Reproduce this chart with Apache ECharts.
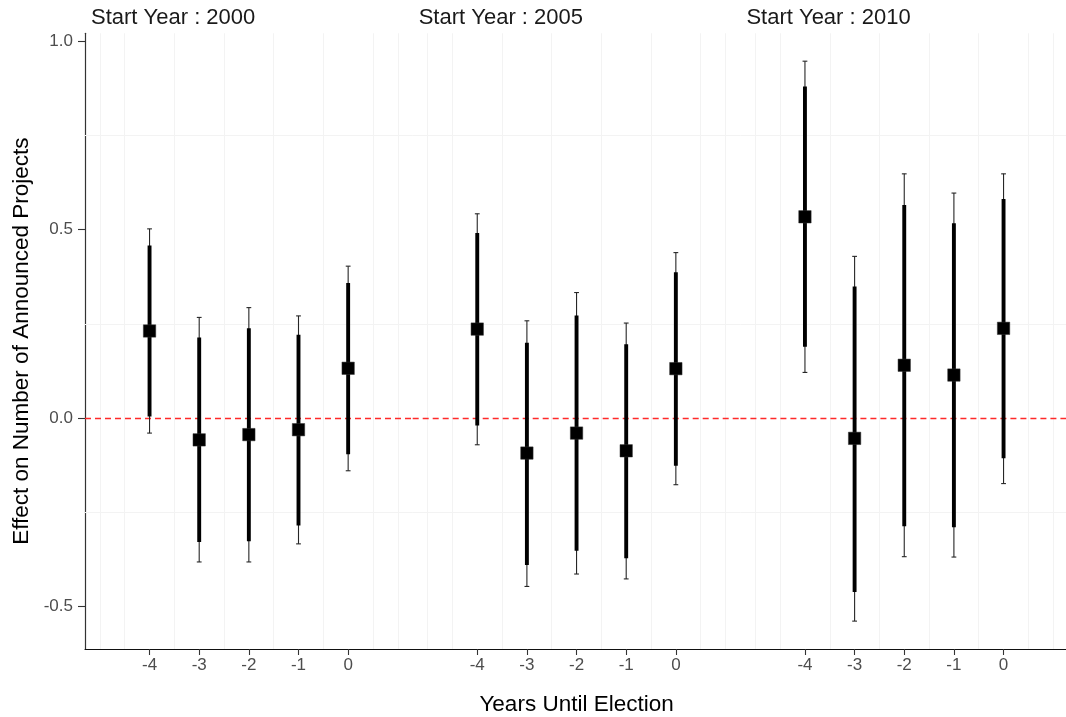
<!DOCTYPE html>
<html>
<head>
<meta charset="utf-8">
<title>Effect on Number of Announced Projects</title>
<script src="https://cdn.jsdelivr.net/npm/echarts@6/dist/echarts.min.js"></script>
<style>
  html, body { margin: 0; padding: 0; background: #ffffff; }
  #chart { width: 1066px; height: 717px; }
</style>
</head>
<body>
<div id="chart"></div>
<script>
// Event-study estimates by start year: point estimate, 95% and 90% intervals
const years = [-4, -3, -2, -1, 0];
const startYears = ['2000', '2005', '2010'];

const est2000  = [0.231, -0.058, -0.044, -0.031, 0.132];
const lo95_2000 = [-0.040, -0.382, -0.382, -0.334, -0.140];
const hi95_2000 = [0.502, 0.267, 0.293, 0.271, 0.403];
const lo90_2000 = [0.004, -0.329, -0.327, -0.285, -0.096];
const hi90_2000 = [0.458, 0.214, 0.238, 0.221, 0.358];

const est2005  = [0.236, -0.093, -0.040, -0.087, 0.131];
const lo95_2005 = [-0.071, -0.447, -0.414, -0.427, -0.177];
const hi95_2005 = [0.542, 0.258, 0.333, 0.252, 0.439];
const lo90_2005 = [-0.020, -0.390, -0.352, -0.372, -0.127];
const hi90_2005 = [0.491, 0.200, 0.272, 0.196, 0.387];

const est2010  = [0.534, -0.054, 0.140, 0.114, 0.238];
const lo95_2010 = [0.121, -0.539, -0.368, -0.369, -0.174];
const hi95_2010 = [0.947, 0.429, 0.648, 0.597, 0.648];
const lo90_2010 = [0.189, -0.462, -0.287, -0.290, -0.107];
const hi90_2010 = [0.880, 0.349, 0.565, 0.517, 0.581];

const yTicks = [-0.5, 0, 0.5, 1.0];

const panels = [
  { est: est2000, lo95: lo95_2000, hi95: hi95_2000, lo90: lo90_2000, hi90: hi90_2000 },
  { est: est2005, lo95: lo95_2005, hi95: hi95_2005, lo90: lo90_2005, hi90: hi90_2005 },
  { est: est2010, lo95: lo95_2010, hi95: hi95_2010, lo90: lo90_2010, hi90: hi90_2010 }
];

// layout of the three side-by-side facet panels
const FONT = '"Liberation Sans", Arial, Helvetica, sans-serif';
const PANEL_LEFT = 85;
const PANEL_W = 327.7;
const X_MIN = -5.3, X_MAX = 1.3;
const Y_MIN = -0.613, Y_MAX = 1.021;
const GRID_X = [-5, -4.5, -3.5, -2.5, -1.5, -0.5, 0.5, 1];
const GRID_Y = [-0.25, 0.25, 0.75];
const GRID_COLOR = '#f3f3f3';

function renderErrorBar(params, api) {
  const x = api.value(0);
  const pt = api.coord([x, api.value(1)]);
  const lo95 = api.coord([x, api.value(2)]);
  const hi95 = api.coord([x, api.value(3)]);
  const lo90 = api.coord([x, api.value(4)]);
  const hi90 = api.coord([x, api.value(5)]);
  const cx = pt[0];
  const cap = 2.4;
  const thin = { stroke: '#262626', lineWidth: 1.1 };
  return {
    type: 'group',
    children: [
      { type: 'line', shape: { x1: cx, y1: hi95[1], x2: cx, y2: lo95[1] }, style: thin },
      { type: 'line', shape: { x1: cx - cap, y1: hi95[1], x2: cx + cap, y2: hi95[1] }, style: thin },
      { type: 'line', shape: { x1: cx - cap, y1: lo95[1], x2: cx + cap, y2: lo95[1] }, style: thin },
      { type: 'line', shape: { x1: cx, y1: hi90[1], x2: cx, y2: lo90[1] }, style: { stroke: '#000000', lineWidth: 3.9 } },
      { type: 'rect', shape: { x: cx - 6.2, y: pt[1] - 6.2, width: 12.4, height: 12.4 }, style: { fill: '#000000', stroke: '#333333', lineWidth: 0.5 } }
    ]
  };
}

const grids = [], xAxes = [], yAxes = [], series = [], titles = [];

panels.forEach((p, i) => {
  grids.push({
    left: PANEL_LEFT + i * PANEL_W,
    width: PANEL_W,
    top: 33.3,
    bottom: 68,
    containLabel: false,
    outerBoundsMode: 'none'
  });

  xAxes.push({
    type: 'value',
    gridIndex: i,
    min: X_MIN,
    max: X_MAX,
    name: i === 1 ? 'Years Until Election' : '',
    nameLocation: 'middle',
    nameGap: 44,
    nameTextStyle: { fontFamily: FONT, fontSize: 22.5, color: '#000000' },
    axisLine: { show: true, onZero: false, lineStyle: { color: '#111111', width: 1.1 } },
    axisTick: { show: true, customValues: years, length: 6, lineStyle: { color: '#333333', width: 1.1 } },
    axisLabel: {
      show: true,
      customValues: years,
      formatter: v => String(v),
      fontFamily: FONT,
      fontSize: 17,
      color: '#4d4d4d',
      margin: 8
    },
    splitLine: { show: false }
  });

  yAxes.push({
    type: 'value',
    gridIndex: i,
    min: Y_MIN,
    max: Y_MAX,
    name: i === 0 ? 'Effect on Number of Announced Projects' : '',
    nameLocation: 'middle',
    nameGap: 52,
    nameTextStyle: { fontFamily: FONT, fontSize: 22.5, color: '#000000' },
    axisLine: { show: i === 0, onZero: false, lineStyle: { color: '#333333', width: 1.2 } },
    axisTick: { show: i === 0, customValues: yTicks, length: 7, lineStyle: { color: '#333333', width: 1.1 } },
    axisLabel: {
      show: i === 0,
      customValues: yTicks,
      formatter: v => v.toFixed(1),
      fontFamily: FONT,
      fontSize: 17,
      color: '#4d4d4d',
      margin: 12
    },
    splitLine: { show: false }
  });

  const lineData = [];
  GRID_X.forEach(v => lineData.push({ xAxis: v }));
  GRID_Y.forEach(v => lineData.push({ yAxis: v }));
  lineData.push({ yAxis: 0, lineStyle: { color: '#ff2a2a', type: [6, 4], width: 1.3 } });

  // backdrop: faint panel grid and the dashed zero reference line
  series.push({
    type: 'line',
    xAxisIndex: i,
    yAxisIndex: i,
    data: years.map((y, k) => [y, p.est[k]]),
    showSymbol: false,
    lineStyle: { opacity: 0 },
    silent: true,
    z: 1,
    markLine: {
      z: 1,
      silent: true,
      symbol: ['none', 'none'],
      label: { show: false },
      lineStyle: { color: GRID_COLOR, type: 'solid', width: 1 },
      animation: false,
      data: lineData
    }
  });

  // estimates with 90% (thick) and 95% (thin, capped) intervals
  series.push({
    type: 'custom',
    xAxisIndex: i,
    yAxisIndex: i,
    renderItem: renderErrorBar,
    encode: { x: 0, y: [1, 2, 3, 4, 5] },
    data: years.map((y, k) => [y, p.est[k], p.lo95[k], p.hi95[k], p.lo90[k], p.hi90[k]]),
    z: 6
  });

  titles.push({
    text: 'Start Year : ' + startYears[i],
    left: PANEL_LEFT + i * PANEL_W + 6,
    top: 7,
    padding: 0,
    textStyle: { fontFamily: FONT, fontSize: 22, fontWeight: 'normal', color: '#1a1a1a' }
  });
});

const chart = echarts.init(document.getElementById('chart'), null, { renderer: 'canvas' });
chart.setOption({
  animation: false,
  backgroundColor: '#ffffff',
  title: titles,
  grid: grids,
  xAxis: xAxes,
  yAxis: yAxes,
  series: series
});
</script>
</body>
</html>
